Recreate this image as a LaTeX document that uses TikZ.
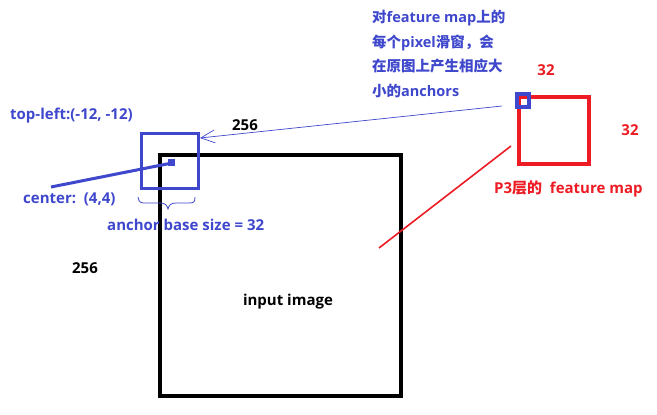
\documentclass[tikz,border=0pt]{standalone}
\usepackage{fontspec}
\setmainfont{Open Sans}[BoldFont={* Bold}]
\newfontfamily\cjk{Noto Sans CJK SC Bold}
\usetikzlibrary{arrows.meta}
\definecolor{pblue}{RGB}{63,72,204}
\definecolor{pred}{RGB}{237,28,36}
\tikzset{
  lbl/.style={inner sep=0pt, font=\bfseries\fontsize{15}{17}\selectfont},
  bluelbl/.style={lbl, text=pblue},
  redlbl/.style={lbl, text=pred},
  blacklbl/.style={lbl, text=black},
}
\begin{document}
\begin{tikzpicture}[x=1pt,y=-1pt]
\useasboundingbox (0,0) rectangle (657,415);
\fill[white] (0,0) rectangle (657,415);
% input image
\draw[line width=4pt] (160,155) rectangle (401,396);
\node[blacklbl] (inp) at (288,302) {input image};
\node[blacklbl] (n256a) at (245,125) {256};
\node[blacklbl] (n256b) at (85,268) {256};
% anchor box
\draw[pblue, line width=3pt] (141,133) rectangle (198,188);
\coordinate (anchR) at (200,138);
% center line
\coordinate (cstart) at (51,187);
\coordinate (cend) at (172,163);
\draw[pblue, line width=3pt] (cstart) -- (cend);
\fill[pblue] (168,159) rectangle (175,166);
% brace
\draw[pblue, line width=0.8pt] (138,197) .. controls (139,203) and (141,203) .. (146,203) -- (160,203) .. controls (165,203) and (167,205) .. (168,209) .. controls (169,205) and (171,203) .. (176,203) -- (189,203) .. controls (194,203) and (195,202) .. (195,197);
% labels
\node[bluelbl, anchor=west] (tl) at (10,116) {top-left:(-12, -12)};
\node[bluelbl, anchor=west] (ctr) at (23,199) {center:\ \ (4,4)};
\node[bluelbl, anchor=west] (abs) at (107,225) {anchor base size = 32};
% feature map
\draw[pred, line width=4.5pt] (519,97) rectangle (589,164);
\draw[pblue, line width=4pt] (517,94) rectangle (529,107);
\node[redlbl] (r32a) at (546,70) {32};
\node[redlbl] (r32b) at (630,130) {32};
\node[redlbl, anchor=west] (p3) at (494,189) {P3{\cjk 层的}\ \ feature map};
% text
\node[bluelbl, anchor=west, align=left, font=\bfseries\fontsize{14.5}{24.5}\selectfont] (desc) at (372,54) {{\cjk 对}feature map{\cjk 上的}\\{\cjk 每个}pixel{\cjk 滑窗，会}\\{\cjk 在原图上产生相应大}\\{\cjk 小的}anchors};
% arrow
\coordinate (fstart) at (502,106);
\draw[pblue, line width=0.7pt, -{Straight Barb[length=14pt,width=13pt]}] (fstart) -- (anchR);
% red line
\coordinate (ra) at (511,146);
\coordinate (rb) at (379,248);
\draw[pred, line width=1.6pt] (ra) -- (rb);
\end{tikzpicture}
\end{document}
